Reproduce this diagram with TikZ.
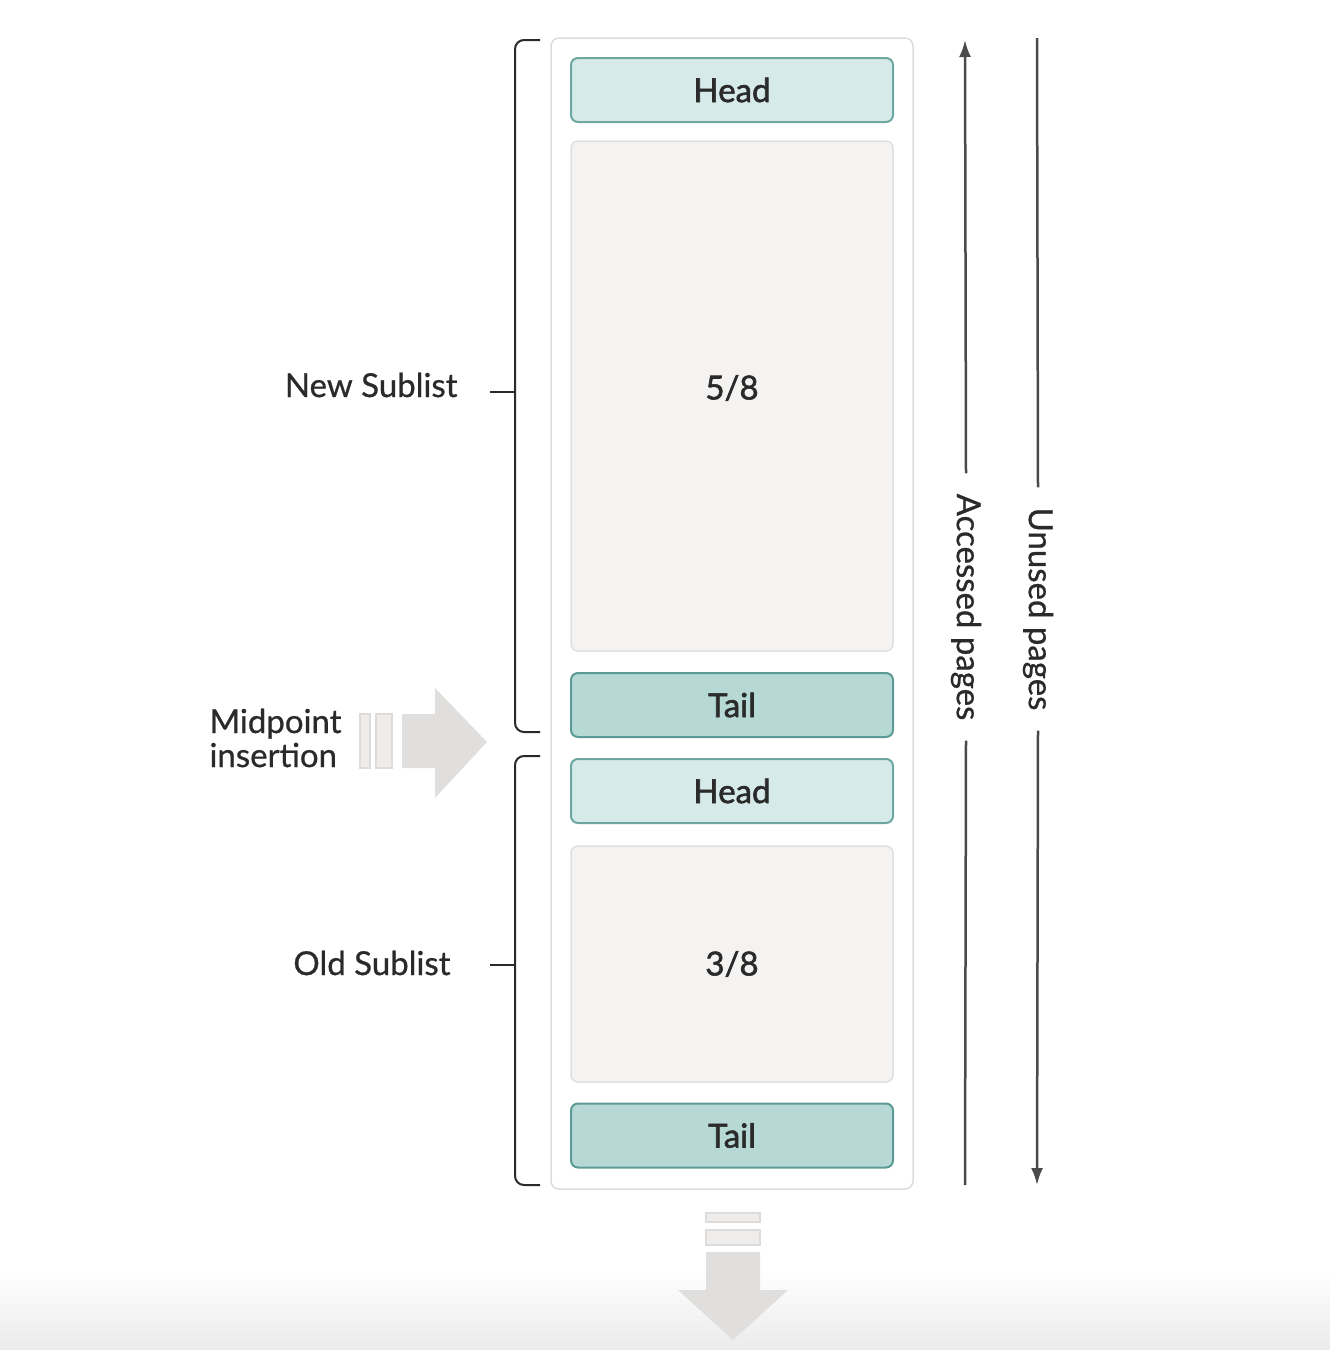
\documentclass[tikz,border=0pt]{standalone}
\usepackage{fontspec}
\setmainfont{Lato}
\newfontfamily\labelfont{Lato}[FakeBold=0.7]
\newfontfamily\cellfont{Lato}[FakeBold=1.8]
\usetikzlibrary{arrows.meta}
\definecolor{headfill}{HTML}{D7EAEA}
\definecolor{headline}{HTML}{6EA6A2}
\definecolor{tailfill}{HTML}{B6D9D6}
\definecolor{tailline}{HTML}{5C9A95}
\definecolor{bodyfill}{HTML}{F4F3F2}
\definecolor{bodyline}{HTML}{E2E0DE}
\definecolor{frameline}{HTML}{DDDCDA}
\definecolor{arrowfill}{HTML}{E0DFDD}
\definecolor{barfill}{HTML}{EEEDEC}
\definecolor{inkline}{HTML}{4A4A4A}
\definecolor{textdark}{HTML}{2A2A2A}
\begin{document}
\begin{tikzpicture}[x=1pt, y=-1pt,
    every node/.style={text=textdark, font=\labelfont\fontsize{33}{38}\selectfont},
    frame/.style={draw=frameline, line width=1.5pt, fill=white, rounded corners=8pt,
        minimum width=362pt, minimum height=1151pt, inner sep=0pt},
    cell/.style={line width=2pt, rounded corners=7pt, minimum width=322pt, inner sep=0pt,
        font=\cellfont\fontsize{33}{38}\selectfont},
    headbox/.style={cell, draw=headline, fill=headfill, minimum height=64pt},
    tailbox/.style={cell, draw=tailline, fill=tailfill, minimum height=64pt},
    bodybox/.style={cell, draw=bodyline, fill=bodyfill, line width=1.5pt},
    brace/.style={draw=textdark, line width=2pt, rounded corners=9pt},
    pageline/.style={draw=inkline, line width=2.5pt},
    vlabel/.style={rotate=-90, inner xsep=20pt, inner ysep=0pt},
    bar/.style={draw=frameline, fill=barfill, line width=1.5pt}]

    \useasboundingbox (0,0) rectangle (1330,1350);
    \shade[top color=white, bottom color=black!8] (0,1270) rectangle (1330,1350);

    % buffer pool list
    \node[frame] (pool) at (732,613.5) {};
    \node[headbox] (newhead) at (732,90) {Head};
    \node[bodybox, minimum height=510pt] (newbody) at (732,396) {};
    \node (newshare) at (732,388) {\cellfont 5/8};
    \node[tailbox] (newtail) at (732,705) {Tail};
    \node[headbox] (oldhead) at (732,791) {Head};
    \node[bodybox, minimum height=236pt] (oldbody) at (732,964) {3/8};
    \node[tailbox] (oldtail) at (732,1135.5) {Tail};

    % sublist braces
    \node[anchor=east] (newlbl) at (461,385) {New Sublist};
    \node[anchor=east] (oldlbl) at (454,963) {Old Sublist};
    \draw[brace] (540,40) -| (515,732) -- (540,732);
    \draw[brace] (515,392) -- (490,392);
    \draw[brace] (540,756) -| (515,1185) -- (540,1185);
    \draw[brace] (515,965) -- (490,965);

    % page order arrows
    \coordinate (acctop) at (965,40);
    \coordinate (accbot) at (965,1185);
    \coordinate (unutop) at (1037,38);
    \coordinate (unubot) at (1037,1185);
    \node[vlabel] (acc) at (966,607) {Accessed pages};
    \node[vlabel] (unu) at (1038,609) {Unused pages};
    \draw[pageline, -{Latex[length=17pt,width=12pt]}] (acc.west) -- (acctop);
    \draw[pageline] (acc.east) -- (accbot);
    \draw[pageline] (unu.west) -- (unutop);
    \draw[pageline, -{Latex[length=17pt,width=12pt]}] (unu.east) -- (unubot);

    % midpoint insertion
    \node[anchor=west, align=left, font=\labelfont\fontsize{33}{34}\selectfont] (mid) at (206,738) {Midpoint\\insertion};
    \draw[bar] (360,714) rectangle (370,768);
    \draw[bar] (376,714) rectangle (392,768);
    \fill[arrowfill] (402,714) -- (435,714) -- (435,688) -- (487,742)
        -- (435,798) -- (435,768) -- (402,768) -- cycle;

    % eviction at the tail
    \draw[bar] (706,1213) rectangle (760,1222);
    \draw[bar] (706,1230) rectangle (760,1245);
    \fill[arrowfill] (706,1252) -- (760,1252) -- (760,1290) -- (788,1290)
        -- (733,1340) -- (678,1290) -- (706,1290) -- cycle;

\end{tikzpicture}
\end{document}
